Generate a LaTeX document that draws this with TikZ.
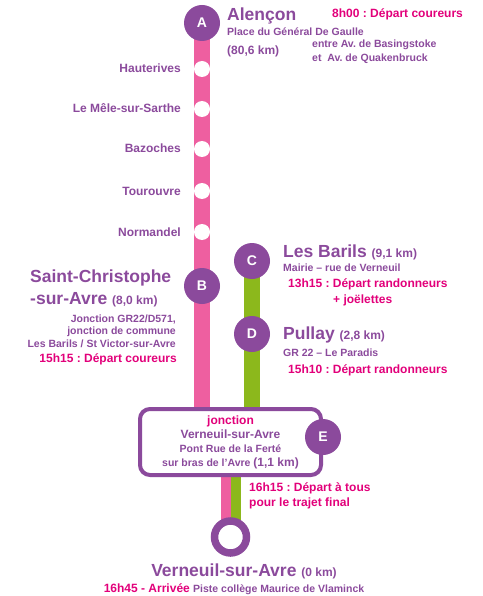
\documentclass[tikz,border=0pt]{standalone}
\usepackage{fontspec}
\setmainfont{Liberation Sans}
\usetikzlibrary{backgrounds}

\definecolor{violetpiste}{HTML}{8B4A9C}
\definecolor{rosepiste}{HTML}{EE5FA0}
\definecolor{vertpiste}{HTML}{8CB81C}
\definecolor{magentaheure}{HTML}{E2007A}

\begin{document}
\frenchspacing
\begin{tikzpicture}[x=1pt, y=-1pt,
    arret/.style={circle, fill=violetpiste, text=white, inner sep=0pt,
      minimum size=36pt, font=\fontsize{14}{14}\selectfont\bfseries},
    halte/.style={circle, fill=white, inner sep=0pt, minimum size=16pt},
    terminus/.style={circle, draw=violetpiste, fill=white, line width=7.5pt,
      inner sep=0pt, minimum size=32pt},
    cadre/.style={draw=violetpiste, fill=white, line width=4pt, rounded corners=10pt,
      minimum width=181pt, minimum height=66pt, inner sep=0pt, align=center,
      text=violetpiste, font=\fontsize{10.5}{14}\selectfont\bfseries},
    titre/.style={inner sep=0pt, text=violetpiste, font=\fontsize{17.5}{21}\selectfont\bfseries},
    ville/.style={inner sep=0pt, text=violetpiste, font=\fontsize{12}{14}\selectfont\bfseries},
    detail/.style={inner sep=0pt, text=violetpiste, font=\fontsize{10.5}{12.5}\selectfont\bfseries},
    heure/.style={inner sep=0pt, text=magentaheure, font=\fontsize{12}{14}\selectfont\bfseries},
    ligne rose/.style={rosepiste, line width=16pt},
    ligne verte/.style={vertpiste, line width=16pt}]

  \useasboundingbox (0,0) rectangle (482,596);

  % Arrets principaux
  \node[arret] (A) at (202,23) {A};
  \node[arret] (B) at (202,286) {B};
  \node[arret] (C) at (252,261) {C};
  \node[arret] (D) at (252,334) {D};

  % Haltes intermediaires sur la ligne rose
  \foreach \y/\nom/\lieu in {69/h1/Hauterives, 109/h2/Le Mêle-sur-Sarthe, 149/h3/Bazoches,
      191/h4/Tourouvre, 232/h5/Normandel} {
    \node[halte] (\nom) at (202,\y) {};
    \node[ville, anchor=base east] (l\nom) at (181,\y+4) {\lieu};
  }

  % Cadre de la jonction
  \node[cadre] (jonction) at (230.5,442)
    {{\color{magentaheure}\fontsize{12}{15}\selectfont jonction}\\
     {\fontsize{12}{14}\selectfont Verneuil-sur-Avre}\\
     Pont Rue de la Ferté\\
     sur bras de l'Avre {\fontsize{12}{14}\selectfont (1,1 km)}};
  \node[arret] (E) at (323,437) {E};

  % Arrivee
  \node[terminus] (fin) at (230.5,537) {};

  % Lignes (sous les arrets)
  \begin{pgfonlayer}{background}
    \draw[ligne rose] (A.center) -- (A.center |- jonction.north);
    \draw[ligne verte] (C.center) -- (C.center |- jonction.north);
    \draw[ligne rose, line width=10pt] ([xshift=-5pt]jonction.south) -- ([xshift=-5pt]fin.center);
    \draw[ligne verte, line width=10pt] ([xshift=5pt]jonction.south) -- ([xshift=5pt]fin.center);
  \end{pgfonlayer}

  % Depart : Alencon
  \node[titre, anchor=base west] (alencon) at (227,21) {Alençon};
  \node[detail, anchor=base west] (place) at (227,36) {Place du Général De Gaulle};
  \node[ville, anchor=base west] (kmA) at (227,55) {(80,6 km)};
  \node[detail, anchor=base west] (entre) at (312,48) {entre Av. de Basingstoke};
  \node[detail, anchor=base west] (et) at (312,62) {et~~Av. de Quakenbruck};
  \node[heure, anchor=base west] (hA) at (332,18) {8h00 : Départ coureurs};

  % Saint-Christophe-sur-Avre
  \node[titre, anchor=base west] (stchris) at (30,282) {Saint-Christophe};
  \node[titre, anchor=base west] (suravre) at (30,304)
    {-sur-Avre {\fontsize{12}{14}\selectfont (8,0 km)}};
  \node[detail, anchor=base east] (jonc1) at (176,322) {Jonction GR22/D571,};
  \node[detail, anchor=base east] (jonc2) at (176,334) {jonction de commune};
  \node[detail, anchor=base east] (jonc3) at (176,347) {Les Barils / St Victor-sur-Avre};
  \node[heure, anchor=base east] (hB) at (177,362) {15h15 : Départ coureurs};

  % Les Barils
  \node[titre, anchor=base west] (barils) at (283,257)
    {Les Barils {\fontsize{12}{14}\selectfont (9,1 km)}};
  \node[detail, anchor=base west] (mairie) at (283,271) {Mairie – rue de Verneuil};
  \node[heure, anchor=base west] (hC) at (288,287) {13h15 : Départ randonneurs};
  \node[heure, anchor=base west] (joel) at (333,303) {+ joëlettes};

  % Pullay
  \node[titre, anchor=base west] (pullay) at (283,339)
    {Pullay {\fontsize{12}{14}\selectfont (2,8 km)}};
  \node[detail, anchor=base west] (paradis) at (283,356) {GR 22 – Le Paradis};
  \node[heure, anchor=base west] (hD) at (288,373) {15h10 : Départ randonneurs};

  % Trajet final
  \node[heure, anchor=base west] (hE1) at (249,491) {16h15 : Départ à tous};
  \node[heure, anchor=base west] (hE2) at (249,506) {pour le trajet final};

  \node[titre, anchor=base] (verneuil) at (244,576)
    {Verneuil-sur-Avre {\fontsize{12}{14}\selectfont (0 km)}};
  \node[heure, anchor=base] (arrivee) at (234,592)
    {16h45 - Arrivée {\color{violetpiste}\fontsize{10.5}{12}\selectfont Piste collège Maurice de Vlaminck}};

\end{tikzpicture}
\end{document}
